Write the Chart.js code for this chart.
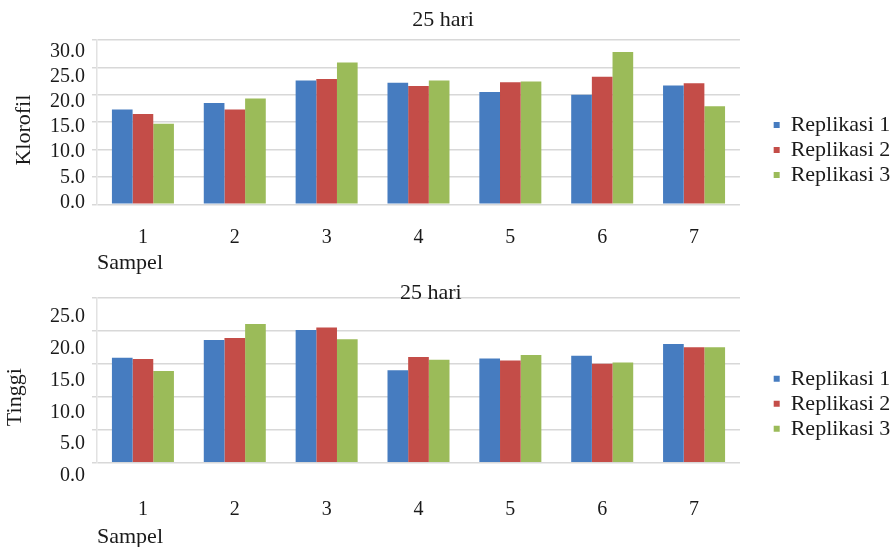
<!DOCTYPE html>
<html>
<head>
<meta charset="utf-8">
<script src="https://cdn.jsdelivr.net/npm/chart.js@4.4.1/dist/chart.umd.min.js"></script>
<style>
  html, body { margin: 0; padding: 0; background: #fff; overflow: hidden; }
  #wrap { position: relative; width: 894px; height: 547px; overflow: hidden; }
  .panel { position: absolute; left: 0; width: 894px; }
  #p1 { top: 0; height: 280px; }
  #p2 { top: 280px; height: 270px; }
</style>
</head>
<body>
<div id="wrap">
  <div class="panel" id="p1"><canvas id="c1"></canvas></div>
  <div class="panel" id="p2"><canvas id="c2"></canvas></div>
</div>
<script>
// Samples and replicate names
const sampel = ['1', '2', '3', '4', '5', '6', '7'];
const seriesNames = ['Replikasi 1', 'Replikasi 2', 'Replikasi 3'];

// Chlorophyll after 25 days
const klorofilR1 = [17.3, 18.5, 22.6, 22.2, 20.5, 20.0, 21.7];
const klorofilR2 = [16.5, 17.3, 22.9, 21.6, 22.3, 23.3, 22.1];
const klorofilR3 = [14.7, 19.3, 25.9, 22.6, 22.4, 27.8, 17.9];

// Plant height after 25 days
const tinggiR1 = [15.9, 18.6, 20.1, 14.0, 15.8, 16.2, 18.0];
const tinggiR2 = [15.7, 18.9, 20.5, 16.0, 15.5, 15.0, 17.5];
const tinggiR3 = [13.9, 21.0, 18.7, 15.6, 16.3, 15.2, 17.5];

// Value-axis tick labels
const klorofilTicks = [0, 5, 10, 15, 20, 25, 30];
const tinggiTicks = [0, 5, 10, 15, 20, 25];

const seriesColors = ['#467cc0', '#c44d48', '#9bbb59'];
const FONT = "'Liberation Serif', 'Times New Roman', serif";
const INK = '#1a1a1a';
const GRID = '#d8d8d8';

Chart.defaults.font.family = FONT;
Chart.defaults.color = INK;

// Rotated value-axis caption, placed beside the tick labels
const sideTitle = {
  id: 'sideTitle',
  afterDraw(chart, args, opts) {
    const { ctx, chartArea } = chart;
    ctx.save();
    ctx.translate(opts.x, (chartArea.top + chartArea.bottom) / 2 + opts.shift);
    ctx.rotate(-Math.PI / 2);
    ctx.font = `${opts.size}px ${FONT}`;
    ctx.fillStyle = INK;
    ctx.textAlign = 'center';
    ctx.textBaseline = 'alphabetic';
    ctx.fillText(opts.text, 0, 0);
    ctx.restore();
  }
};

// Let legend text run into the right margin instead of being clipped
const legendBleed = {
  id: 'legendBleed',
  afterLayout(chart) {
    if (chart.legend) chart.legend.right = chart.width;
  }
};

function makeChart(canvasId, p) {
  const datasets = p.series.map((values, i) => ({
    label: seriesNames[i],
    data: values,
    backgroundColor: seriesColors[i],
    borderWidth: 0,
    barPercentage: 1,
    categoryPercentage: 0.675
  }));

  return new Chart(document.getElementById(canvasId), {
    type: 'bar',
    data: { labels: sampel, datasets },
    plugins: [sideTitle, legendBleed],
    options: {
      responsive: true,
      maintainAspectRatio: false,
      animation: false,
      devicePixelRatio: 1,
      layout: { padding: { left: p.padLeft, right: p.padRight, top: 0, bottom: 0 } },
      plugins: {
        title: {
          display: true,
          text: '25 hari',
          color: INK,
          font: { size: 22, weight: 'normal' },
          padding: p.titlePadding
        },
        legend: {
          position: 'right',
          fullSize: false,
          title: { display: true, text: '', font: { size: 10 }, padding: { top: p.legendSpacer, bottom: 0 } },
          labels: {
            usePointStyle: true,
            pointStyle: 'rect',
            boxWidth: 6,
            boxHeight: 6,
            padding: 3,
            color: INK,
            font: { size: 22 }
          }
        },
        tooltip: { enabled: false },
        sideTitle: { text: p.yTitle, x: p.yTitleX, shift: p.yTitleShift, size: 22 }
      },
      scales: {
        x: {
          grid: { display: false, drawTicks: false },
          border: { display: false },
          ticks: { padding: p.xTickPadding, font: { size: 20 }, color: INK },
          title: {
            display: true,
            text: 'Sampel',
            align: 'start',
            color: INK,
            font: { size: 22 },
            padding: p.xTitlePadding
          }
        },
        // value axis carrying the bars and the horizontal gridlines
        y: {
          position: 'left',
          min: 0,
          max: p.yMax,
          weight: 0,
          ticks: { display: false, stepSize: 5 },
          grid: { color: GRID, lineWidth: 1.5, drawTicks: true, tickLength: 5 },
          border: { display: true, color: '#e2e2e2', width: 1.5 }
        },
        // tick-label column of the value axis
        yl: {
          position: 'left',
          weight: 1,
          min: p.labelMin,
          max: p.labelMax,
          grid: { display: false, drawTicks: false },
          border: { display: false },
          ticks: {
            autoSkip: false,
            padding: 7,
            labelOffset: p.labelOffset,
            font: { size: 20, lineHeight: 1 },
            color: INK,
            callback: (v) => Number(v).toFixed(1)
          },
          afterBuildTicks: (scale) => { scale.ticks = p.tickValues.map((v) => ({ value: v })); },
          afterFit: (scale) => { scale.width = 92 - p.padLeft; }
        },
        // empty margin between the plot and the legend
        yr: {
          position: 'right',
          display: true,
          grid: { display: false, drawTicks: false },
          border: { display: false },
          ticks: { display: false },
          afterFit: (scale) => { scale.width = 30.7; }
        }
      }
    }
  });
}

makeChart('c1', {
  series: [klorofilR1, klorofilR2, klorofilR3],
  yMax: 30,
  tickValues: klorofilTicks,
  labelMin: -0.36,
  labelMax: 32.29,
  labelOffset: 0,
  padLeft: 6.1,
  padRight: 14.1,
  titlePadding: { top: 6.8, bottom: 6.8 },
  xTickPadding: 21.7,
  xTitlePadding: { top: -21.9, bottom: 3.8 },
  legendSpacer: 43.7,
  yTitle: 'Klorofil',
  yTitleX: 30,
  yTitleShift: 8
});

makeChart('c2', {
  series: [tinggiR1, tinggiR2, tinggiR3],
  yMax: 25,
  tickValues: tinggiTicks,
  labelMin: 0,
  labelMax: 25.94,
  labelOffset: 13.3,
  padLeft: -22.4,
  padRight: 10,
  titlePadding: { top: 0.1, bottom: -8.8 },
  xTickPadding: 35.3,
  xTitlePadding: { top: -33.5, bottom: -0.2 },
  legendSpacer: 35.1,
  yTitle: 'Tinggi',
  yTitleX: 21,
  yTitleShift: 17
});
</script>
</body>
</html>
